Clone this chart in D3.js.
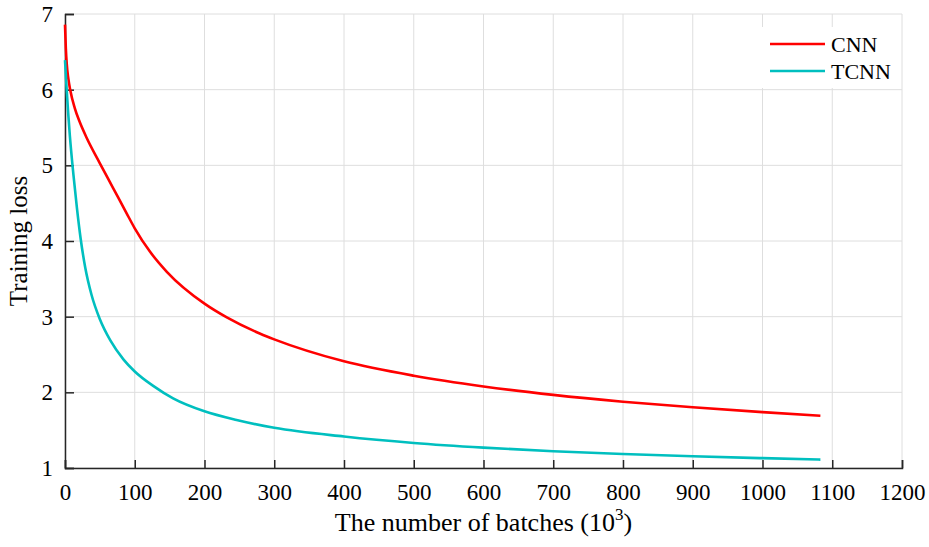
<!DOCTYPE html>
<html>
    <head>
        <meta charset="utf-8">
        <script src="https://d3js.org/d3.v7.min.js"></script>
        <style>
            body { margin: 0; background: #fff; }
            text { font-family: "Liberation Serif", "Times New Roman", serif; fill: #000; }
        </style>
    </head>
    <body>

        <script>
            // batches (10^3) and training loss
            var cnnBatches = [0, 1.2, 2.5, 4.8, 7.5, 14, 21, 31, 50, 69, 88, 100, 122, 146, 200, 232, 280, 300, 400, 500, 600, 700, 800, 900, 1000, 1083];
            var cnnLoss    = [6.86, 6.548, 6.34, 6.145, 5.997, 5.757, 5.575, 5.365, 5.027, 4.70, 4.372, 4.168, 3.857, 3.593, 3.172, 2.99, 2.774, 2.70, 2.41, 2.22, 2.078, 1.966, 1.876, 1.802, 1.738, 1.69];

            var tcnnBatches = [0, 2.4, 7, 12, 17, 22.5, 29, 38, 50, 65, 84, 100, 127, 155, 200, 246, 300, 400, 500, 600, 700, 800, 900, 1000, 1083];
            var tcnnLoss    = [6.39, 6.0, 5.385, 4.885, 4.445, 4.027, 3.65, 3.29, 2.966, 2.686, 2.433, 2.276, 2.082, 1.92, 1.749, 1.634, 1.531, 1.416, 1.331, 1.269, 1.221, 1.185, 1.155, 1.13, 1.111];

            var xTicks = [0, 100, 200, 300, 400, 500, 600, 700, 800, 900, 1000, 1100, 1200];
            var yTicks = [1, 2, 3, 4, 5, 6, 7];

            var seriesNames  = ['CNN', 'TCNN'];
            var seriesColors = ['#ff0000', '#00bfbf'];

            var margin = {
                    top    : 14,
                    right  : 27,
                    bottom : 79,
                    left   : 65
                },
                width  = 929 - margin.left - margin.right,
                height = 547 - margin.top - margin.bottom;

            var svg = d3.select('body')
                        .append('svg')
                        .attr('width', 929)
                        .attr('height', 547);

            var g = svg.append('g')
                        .attr('transform', 'translate(' + margin.left + ',' + margin.top + ')');

            var x = d3.scaleLinear().domain([0, 1200]).range([0, width]);
            var y = d3.scaleLinear().domain([1, 7]).range([height, 0]);

            // grid
            g.selectAll('.vgrid')
                .data(xTicks)
                .enter().append('line')
                    .attr('x1', function(d) { return x(d); })
                    .attr('x2', function(d) { return x(d); })
                    .attr('y1', 0)
                    .attr('y2', height)
                    .style('stroke', '#dedede')
                    .style('stroke-width', 1);

            g.selectAll('.hgrid')
                .data(yTicks)
                .enter().append('line')
                    .attr('x1', 0)
                    .attr('x2', width)
                    .attr('y1', function(d) { return y(d); })
                    .attr('y2', function(d) { return y(d); })
                    .style('stroke', '#dedede')
                    .style('stroke-width', 1);

            // axes, ticks point inward
            var xAxis = g.append('g')
                        .attr('transform', 'translate(0,' + height + ')')
                        .call(d3.axisBottom(x).tickValues(xTicks).tickSize(-8).tickPadding(16).tickFormat(d3.format('d')));

            var yAxis = g.append('g')
                        .call(d3.axisLeft(y).tickValues(yTicks).tickSize(-9).tickPadding(12).tickFormat(d3.format('d')));

            [xAxis, yAxis].forEach(function(a) {
                a.attr('font-family', 'Liberation Serif').attr('font-size', 23);
                a.select('.domain').style('stroke', '#262626').style('stroke-width', 1.5);
                a.selectAll('.tick line').style('stroke', '#262626').style('stroke-width', 1.5);
                a.selectAll('.tick text').style('fill', '#000');
            });

            // curves
            var line = d3.line()
                        .x(function(d) { return x(d[0]); })
                        .y(function(d) { return y(d[1]); })
                        .curve(d3.curveMonotoneX);

            var series = [
                cnnBatches.map(function(b, i) { return [b, cnnLoss[i]]; }),
                tcnnBatches.map(function(b, i) { return [b, tcnnLoss[i]]; })
            ];

            g.selectAll('.curve')
                .data(series)
                .enter().append('path')
                    .attr('d', line)
                    .style('fill', 'none')
                    .style('stroke', function(d, i) { return seriesColors[i]; })
                    .style('stroke-width', 2.6);

            // legend
            var legend = svg.append('g');

            legend.append('rect')
                    .attr('x', 755)
                    .attr('y', 27)
                    .attr('width', 143)
                    .attr('height', 61)
                    .style('fill', '#fff');

            var items = legend.selectAll('.item')
                        .data(seriesNames)
                        .enter().append('g')
                            .attr('transform', function(d, i) { return 'translate(770,' + (44 + i * 27) + ')'; });

            items.append('line')
                    .attr('x1', 0)
                    .attr('x2', 55)
                    .style('stroke', function(d, i) { return seriesColors[i]; })
                    .style('stroke-width', 2.6);

            items.append('text')
                    .attr('x', 61)
                    .attr('y', 8)
                    .style('font-size', '22px')
                    .text(function(d) { return d; });

            // axis titles
            var xTitle = svg.append('text')
                    .attr('x', margin.left + width / 2)
                    .attr('y', 531)
                    .attr('text-anchor', 'middle')
                    .style('font-size', '26px');
            xTitle.append('tspan').text('The number of batches (10');
            xTitle.append('tspan').attr('dy', -11).style('font-size', '17px').text('3');
            xTitle.append('tspan').attr('dy', 11).text(')');

            svg.append('text')
                    .attr('transform', 'translate(27,' + (margin.top + height / 2) + ') rotate(-90)')
                    .attr('text-anchor', 'middle')
                    .style('font-size', '25px')
                    .text('Training loss');

        </script>
    </body>
</html>
